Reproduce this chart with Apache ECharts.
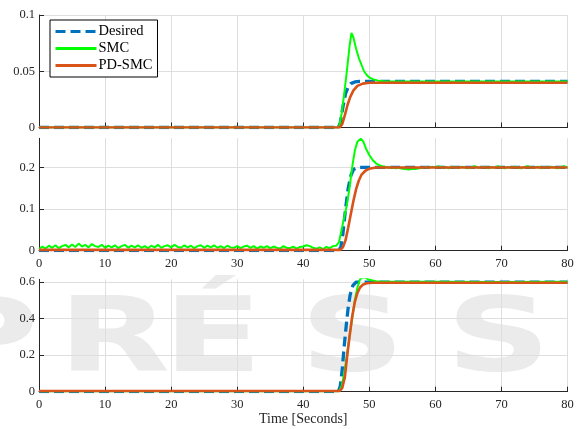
<!DOCTYPE html>
<html>
<head>
<meta charset="utf-8">
<script src="https://cdn.jsdelivr.net/npm/echarts@6/dist/echarts.min.js"></script>
<style>html,body{margin:0;padding:0;background:#fff;}#c{width:580px;height:429px;}</style>
</head>
<body>
<div id="c"></div>
<script>
// ---- data ----
const seriesNames = ['Desired', 'SMC', 'PD-SMC'];
const xTicks = [0, 10, 20, 30, 40, 50, 60, 70, 80];
const yTicks1 = [0, 0.05, 0.1];
const yTicks2 = [0, 0.1, 0.2];
const yTicks3 = [0, 0.2, 0.4, 0.6];

// Panel 1
const desired1 = [[0,0],[45.3,0],[45.6,0.004],[46,0.018],[46.4,0.03],[46.8,0.036],[47.2,0.039],[47.8,0.0405],[48.5,0.041],[80,0.041]];
const smc1 = [[0,0],[45.4,0],[45.8,0.012],[46.2,0.03],[46.6,0.05],[47,0.072],[47.3,0.084],[47.6,0.08],[48,0.07],[48.4,0.062],[48.8,0.056],[49.2,0.05],[49.6,0.0467],[50,0.0445],[50.6,0.0428],[51.4,0.0416],[52.5,0.041],[80,0.041]];
const pdsmc1 = [[0,0],[45.5,0],[45.9,0.003],[46.3,0.011],[46.7,0.02],[47.1,0.027],[47.6,0.033],[48.2,0.037],[49,0.039],[50,0.0398],[80,0.0398]];

// Panel 2
const desired2 = [[0,0],[45.4,0],[45.7,0.01],[46,0.04],[46.4,0.1],[46.8,0.15],[47.2,0.18],[47.6,0.195],[48.2,0.2],[80,0.2]];
const noiseStep = 0.5;
const smc2Before = [0.004,0.010,0.005,0.012,0.007,0.013,0.006,0.011,0.014,0.008,
  0.015,0.009,0.017,0.010,0.014,0.008,0.016,0.011,0.009,0.014,
  0.007,0.012,0.008,0.013,0.006,0.011,0.014,0.007,0.012,0.008,
  0.013,0.007,0.011,0.006,0.012,0.008,0.014,0.007,0.011,0.013,
  0.008,0.014,0.009,0.007,0.013,0.008,0.012,0.006,0.011,0.013,
  0.007,0.012,0.008,0.013,0.007,0.011,0.006,0.012,0.008,0.007,
  0.011,0.006,0.010,0.012,0.007,0.011,0.005,0.010,0.007,0.011,
  0.006,0.010,0.007,0.005,0.011,0.007,0.006,0.010,0.005,0.009,
  0.010,0.013,0.011,0.007,0.005,0.008,0.004,0.009,0.006,0.011,
  0.012];
const smc2BeforeStart = 0;
const smc2Transient = [[45.4,0.02],[45.8,0.05],[46.2,0.08],[46.6,0.11],[47,0.15],[47.4,0.2],[47.8,0.24],[48.2,0.262],[48.7,0.269],[49.1,0.262],[49.5,0.245],[50,0.23],[50.5,0.218],[51,0.21],[51.6,0.205],[52.1,0.202]];
const smc2After = [0.201,0.199,0.200,0.198,0.199,0.197,0.196,0.195,0.197,0.196,
  0.198,0.199,0.201,0.199,0.202,0.200,0.203,0.199,0.201,0.198,
  0.202,0.200,0.199,0.202,0.200,0.198,0.201,0.203,0.199,0.200,
  0.202,0.198,0.201,0.199,0.203,0.200,0.198,0.201,0.199,0.202,
  0.200,0.198,0.201,0.203,0.199,0.200,0.202,0.198,0.201,0.199,
  0.202,0.200,0.198,0.201,0.203,0.199];
const smc2AfterStart = 52.5;
const pdsmc2 = [[0,0.002],[45.6,0.002],[46,0.008],[46.4,0.025],[46.8,0.055],[47.2,0.088],[47.6,0.12],[48,0.148],[48.4,0.168],[48.8,0.182],[49.4,0.192],[50,0.197],[51,0.2],[80,0.2]];

// Panel 3
const desired3 = [[0,0],[45.3,0],[45.6,0.03],[45.9,0.12],[46.2,0.25],[46.5,0.36],[46.8,0.46],[47.1,0.53],[47.5,0.58],[48,0.6],[80,0.6]];
const smc3 = [[0,0.003],[45.4,0.003],[45.8,0.03],[46.2,0.1],[46.6,0.2],[47,0.3],[47.4,0.4],[47.8,0.5],[48.2,0.57],[48.6,0.615],[49,0.626],[49.5,0.622],[50,0.612],[51,0.605],[52,0.602],[60,0.601],[70,0.6],[80,0.601]];
const pdsmc3 = [[0,0.004],[45.5,0.004],[45.9,0.02],[46.3,0.08],[46.6,0.18],[47,0.3],[47.4,0.41],[47.8,0.49],[48.2,0.54],[48.6,0.57],[49,0.585],[49.6,0.593],[50.5,0.596],[80,0.596]];

const yMax = [0.1, 0.27, 0.615];
const xTitle = 'Time [Seconds]';
const watermark = ['P', 'R', 'É', 'S', 'S'];

// ---- build ----
function grid(arr, start) { return arr.map((v, i) => [start + i * noiseStep, v]); }
const smc2 = grid(smc2Before, smc2BeforeStart).concat(smc2Transient, grid(smc2After, smc2AfterStart));

const colors = { 'Desired': '#0072BD', 'SMC': '#00FF00', 'PD-SMC': '#D95319' };
const font = 'Liberation Serif';
const axisColor = '#262626';

const panels = [[desired1, smc1, pdsmc1], [desired2, smc2, pdsmc2], [desired3, smc3, pdsmc3]];
const yTickSets = [yTicks1, yTicks2, yTicks3];
const tops = [15, 138.3, 279.3];
const heights = [112.5, 112.4, 112.4];

const series = [];
panels.forEach((p, gi) => {
  p.forEach((d, si) => {
    const name = seriesNames[si];
    series.push({
      name, type: 'line', xAxisIndex: gi, yAxisIndex: gi, data: d,
      showSymbol: false, symbol: 'none', silent: true,
      lineStyle: name === 'Desired' ? { color: colors[name], width: 3.3, type: [10, 5] }
        : name === 'SMC' ? { color: colors[name], width: 2 } : { color: colors[name], width: 2.6 },
      itemStyle: { color: colors[name] },
      z: 2 + si
    });
  });
});

const wmX = [-68, 58, 163, 300, 446];
const graphic = watermark.map((ch, i) => ({
  type: 'text', x: wmX[i], y: 344, scaleX: 1.4, z: -10, silent: true,
  style: { text: ch, font: 'bold 104px "DejaVu Sans"', fill: '#ebebeb', textVerticalAlign: 'middle', textAlign: 'left' }
}));

const option = {
  animation: false,
  backgroundColor: '#fff',
  graphic,
  grid: tops.map((t, i) => ({ left: 39, top: t, width: 528.5, height: heights[i] })),
  xAxis: tops.map((t, i) => ({
    type: 'value', gridIndex: i, min: xTicks[0], max: xTicks[xTicks.length - 1], interval: xTicks[1] - xTicks[0],
    axisLine: { show: true, onZero: false, lineStyle: { color: axisColor, width: 1 } },
    axisTick: { show: true, inside: true, length: 5, lineStyle: { color: axisColor } },
    axisLabel: { show: i > 0, fontFamily: font, fontSize: 12.5, color: axisColor, margin: 7 },
    splitLine: { show: true, lineStyle: { color: '#dedede', width: 1 } },
    name: i === 2 ? xTitle : '', nameLocation: 'middle', nameGap: 16,
    nameTextStyle: { fontFamily: font, fontSize: 14, color: axisColor }
  })),
  yAxis: tops.map((t, i) => ({
    type: 'value', gridIndex: i, min: 0, max: yMax[i], interval: yTickSets[i][1] - yTickSets[i][0],
    axisLine: { show: true, onZero: false, lineStyle: { color: axisColor, width: 1 } },
    axisTick: { show: true, inside: true, length: 5, lineStyle: { color: axisColor } },
    axisLabel: { fontFamily: font, fontSize: 12.5, color: axisColor, margin: 4, showMaxLabel: i === 0,
      formatter: v => String(+v.toFixed(3)) },
    splitLine: { show: true, showMaxLine: i === 0, lineStyle: { color: '#dedede', width: 1 } }
  })),
  legend: {
    data: seriesNames, orient: 'vertical', left: 50, top: 20,
    itemWidth: 41, itemHeight: 14, itemGap: 2, padding: [4, 5, 4, 4],
    borderColor: '#000', borderWidth: 1, backgroundColor: '#fff',
    selectedMode: false, z: 10,
    itemStyle: { opacity: 0 },
    lineStyle: { width: 3 },
    textStyle: { fontFamily: font, fontSize: 14.5, color: '#000', padding: [0, 0, 0, -3] }
  },
  series
};
echarts.init(document.getElementById('c'), null, { renderer: 'canvas' }).setOption(option);
</script>
</body>
</html>
